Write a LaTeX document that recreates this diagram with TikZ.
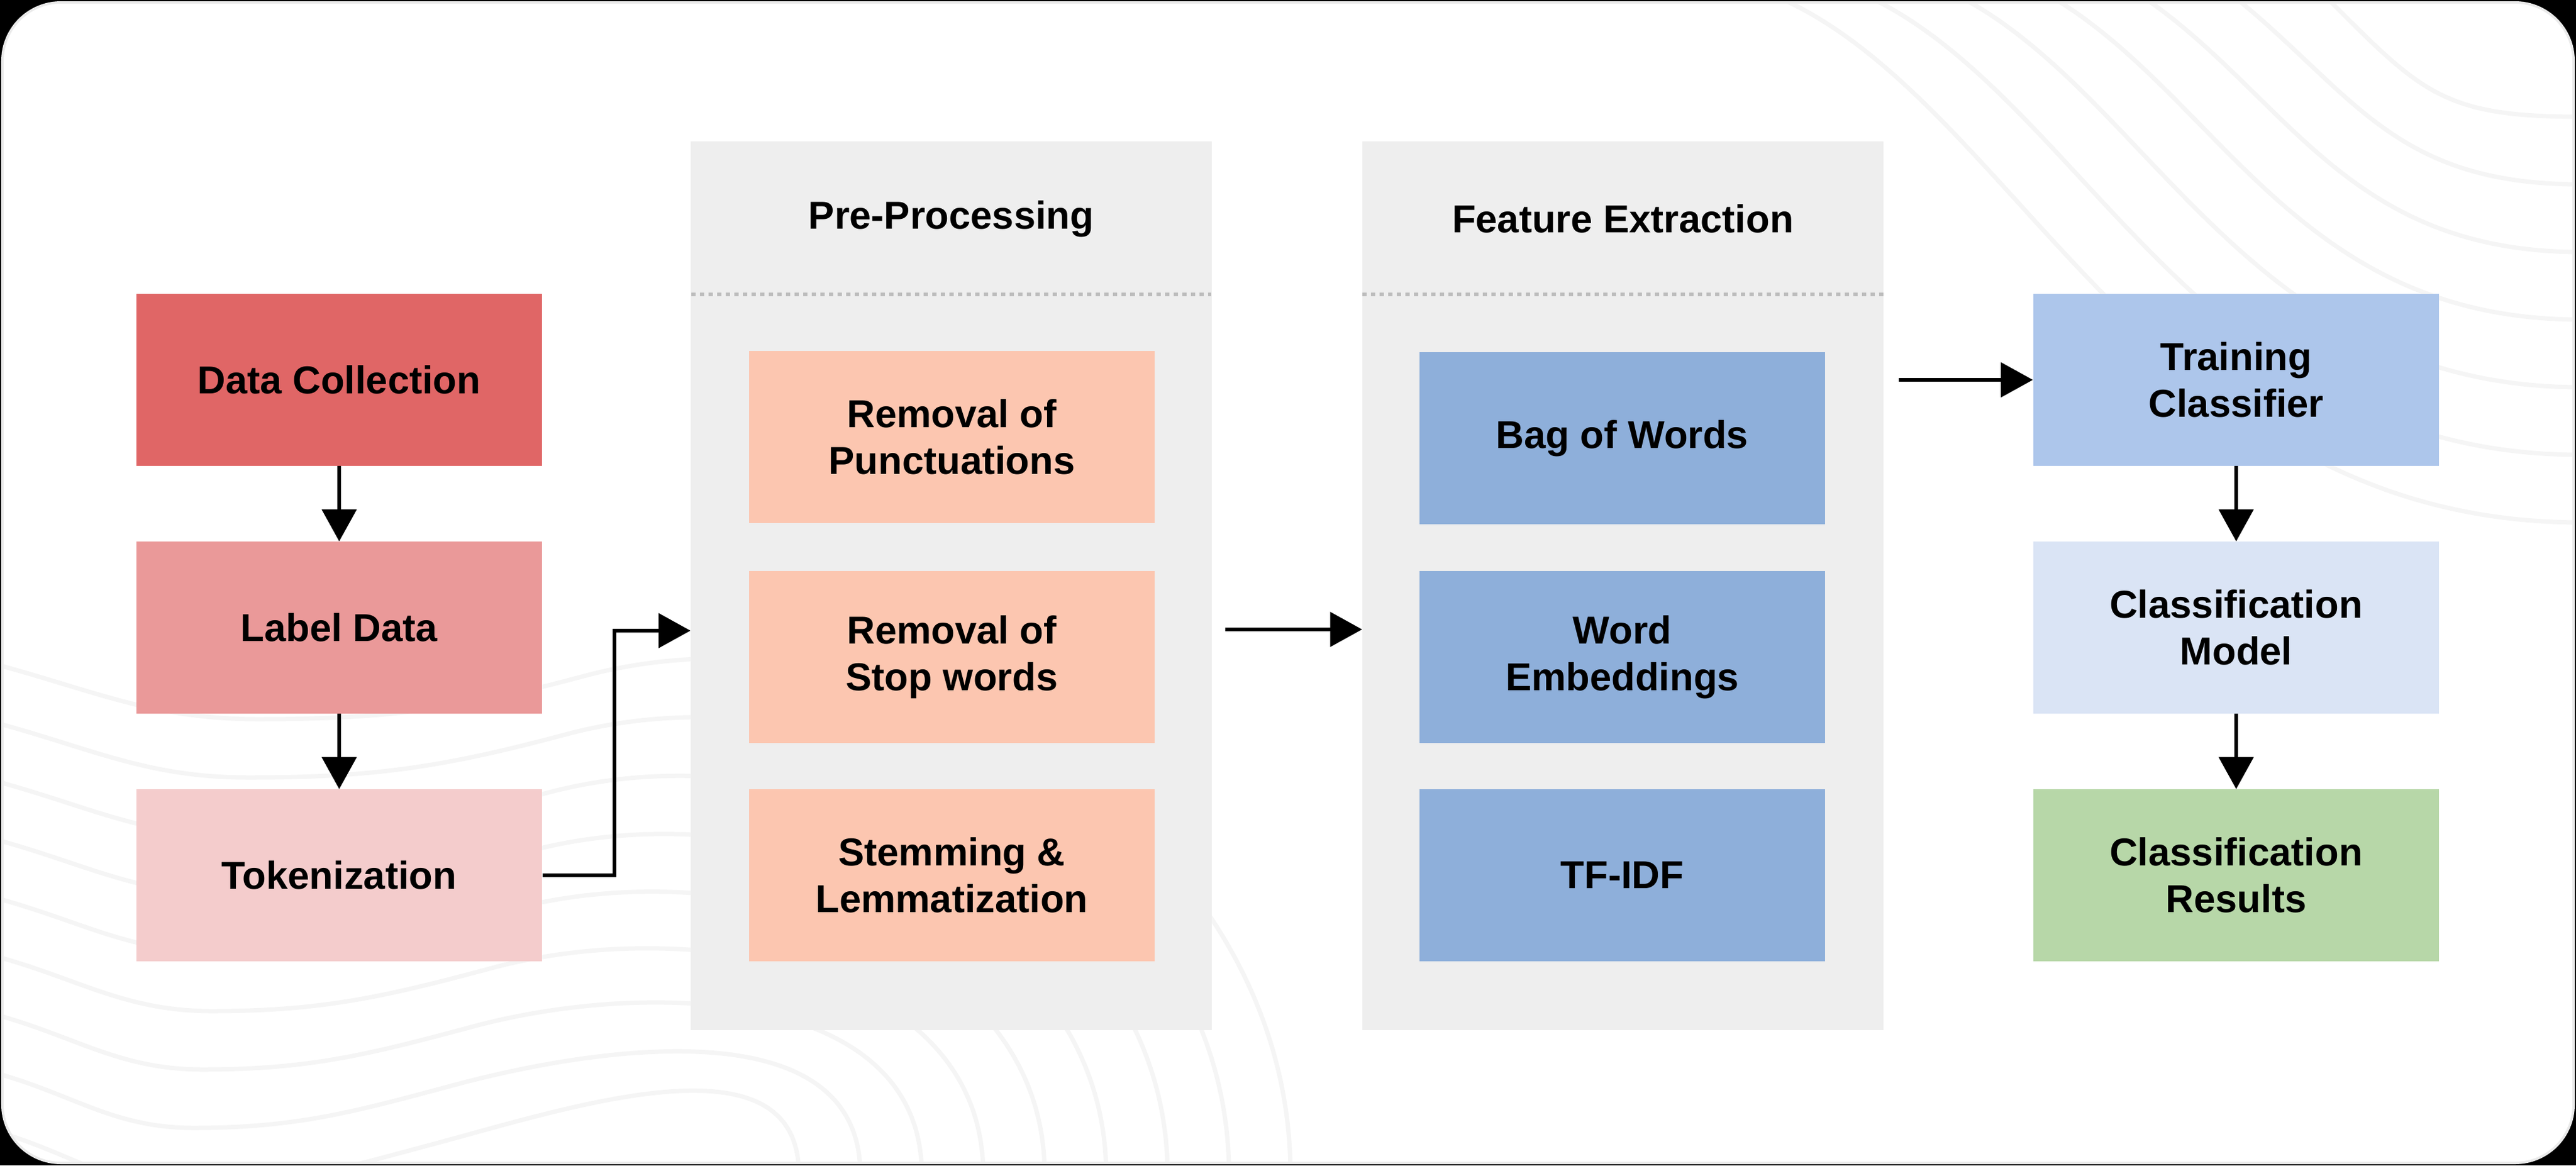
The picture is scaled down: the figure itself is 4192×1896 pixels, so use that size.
\documentclass[tikz,border=0pt]{standalone}
\usepackage{fontspec}
\setmainfont{Liberation Sans}
\usepackage{xcolor}
\usetikzlibrary{arrows.meta}
\definecolor{rouge1}{HTML}{E06666}
\definecolor{rouge2}{HTML}{EA9999}
\definecolor{rouge3}{HTML}{F4CCCC}
\definecolor{peche}{HTML}{FCC6B0}
\definecolor{bleu1}{HTML}{8EAFDA}
\definecolor{bleu2}{HTML}{ADC6EB}
\definecolor{bleu3}{HTML}{DAE4F5}
\definecolor{vert}{HTML}{B7D7A8}
\definecolor{panneau}{HTML}{EEEEEE}
\definecolor{pointille}{HTML}{BDBDBD}
\definecolor{vague}{HTML}{F5F5F5}

\begin{document}
\begin{tikzpicture}[x=0.01cm,y=-0.01cm,
  boite/.style={rectangle, minimum width=6.6cm, minimum height=2.79cm, inner sep=0pt, align=center, font=\fontsize{18}{21.6}\selectfont\bfseries},
  bloc/.style={rectangle, fill=panneau, minimum width=8.47cm, minimum height=14.46cm, inner sep=0pt},
  titre/.style={font=\fontsize{18}{21.6}\selectfont\bfseries},
  fleche/.style={line width=1.5pt, -{Triangle[length=0.52cm,width=0.56cm]}}]
\useasboundingbox (0,0) rectangle (4192,1896);
% fond
\fill[black] (0,0) rectangle (4192,1896);
\fill[white, rounded corners=0.95cm] (4,4) rectangle (4188,1892);
\begin{scope}
    \clip[rounded corners=0.95cm] (4,4) rectangle (4188,1892);
    \foreach \k in {0,...,6}
        \draw[vague, line width=0.07cm] (2880+150*\k,-10) .. controls (3280+110*\k,150) and (3492+80*\k,850-110*\k) .. (4200,850-110*\k);
    \foreach \j in {0,...,8}
        \draw[vague, line width=0.07cm] (-10,1080+95*\j) to[out=-15,in=180] (420-15*\j,1170+95*\j) to[out=0,in=195] (950-30*\j,1100+95*\j) to[out=15,in=90] (2100-100*\j,1910);
\end{scope}
\draw[black!8, line width=0.04cm, rounded corners=0.95cm] (4,4) rectangle (4188,1892);

% colonne gauche
\node[boite, fill=rouge1] (dc) at (552,618) {Data Collection};
\node[boite, fill=rouge2] (ld) at (552,1021) {Label Data};
\node[boite, fill=rouge3] (tok) at (552,1424) {Tokenization};

% pre-processing
\node[bloc] (pp) at (1548,953) {};
\node[titre] (tpp) at (1548,356) {Pre-Processing};
\draw[pointille, line width=0.06cm, dash pattern=on 0.07cm off 0.07cm] (1125,479) -- (1971,479);
\node[boite, fill=peche] (pp1) at (1549,711) {Removal of\\Punctuations};
\node[boite, fill=peche] (pp2) at (1549,1069) {Removal of\\Stop words};
\node[boite, fill=peche] (pp3) at (1549,1424) {Stemming \&\\Lemmatization};

% feature extraction
\node[bloc] (fe) at (2641,953) {};
\node[titre] (tfe) at (2641,356) {Feature Extraction};
\draw[pointille, line width=0.06cm, dash pattern=on 0.07cm off 0.07cm] (2217,479) -- (3065,479);
\node[boite, fill=bleu1] (fe1) at (2640,713) {Bag of Words};
\node[boite, fill=bleu1] (fe2) at (2640,1069) {Word\\Embeddings};
\node[boite, fill=bleu1] (fe3) at (2640,1424) {TF-IDF};

% colonne droite
\node[boite, fill=bleu2] (tc) at (3639,618) {Training\\Classifier};
\node[boite, fill=bleu3] (cm) at (3639,1021) {Classification\\Model};
\node[boite, fill=vert] (cr) at (3639,1424) {Classification\\Results};

% fleches
\draw[fleche] (dc) -- (ld);
\draw[fleche] (ld) -- (tok);
\coordinate (coude) at (1000,1026);
\draw[fleche] (tok.east) -| (coude) -- (coude -| pp.west);
\coordinate (dep1) at (1994,1024);
\draw[fleche] (dep1) -- (dep1 -| fe.west);
\coordinate (dep2) at (3090,618);
\draw[fleche] (dep2) -- (tc.west);
\draw[fleche] (tc) -- (cm);
\draw[fleche] (cm) -- (cr);
\end{tikzpicture}
\end{document}
